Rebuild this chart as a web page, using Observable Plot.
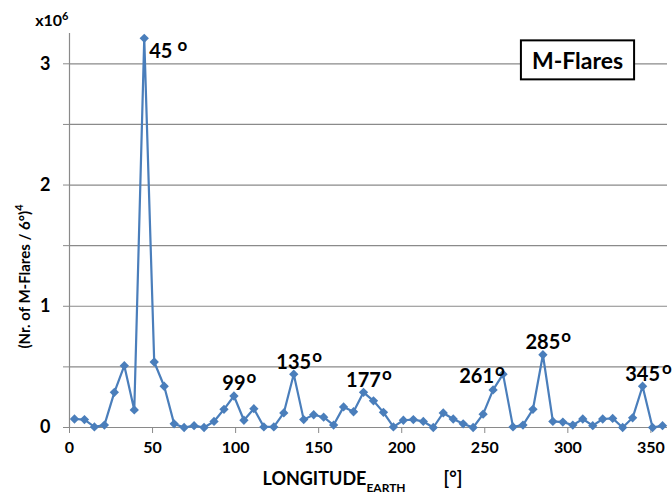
<!DOCTYPE html>
<html><head><meta charset="utf-8">
<script src="https://cdn.jsdelivr.net/npm/d3@7"></script>
<script src="https://cdn.jsdelivr.net/npm/@observablehq/plot@0.6"></script>
<style>
body{margin:0;background:#fff;}
#chart svg text{font-family:Lato,"Open Sans",sans-serif;}
</style></head><body><div id="chart"></div>
<script>
// Longitude bin centres (6° bins), degrees
const longitudes = [3,9,15,21,27,33,39,45,51,57,63,69,75,81,87,93,99,105,111,117,
  123,129,135,141,147,153,159,165,171,177,183,189,195,201,207,213,219,225,231,237,
  243,249,255,261,267,273,279,285,291,297,303,309,315,321,327,333,339,345,351,357];
// (Nr. of M-Flares / 6°)^4, in units of 10^6
const values = [0.07,0.065,0.005,0.02,0.29,0.51,0.145,3.21,0.54,0.34,0.03,0.0,0.015,0.0,0.05,0.15,0.26,0.06,0.155,0.005,
  0.005,0.12,0.44,0.065,0.105,0.085,0.02,0.17,0.13,0.29,0.22,0.125,0.005,0.06,0.065,0.05,0.0,0.12,0.07,0.03,
  0.0,0.11,0.31,0.44,0.005,0.02,0.15,0.6,0.05,0.045,0.02,0.07,0.015,0.07,0.075,0.0,0.08,0.34,0.0,0.015];
const peakLongitudes = [45,99,135,177,261,285,345];
const peakLabels = ["45","99","135","177","261","285","345"];
const xTicks = [0,50,100,150,200,250,300,350];
const yTicks = [0,0.5,1,1.5,2,2.5,3];
const yTickLabels = ["0","","1","","2","","3"];
const boxTitle = "M-Flares";
const yTitle = "(Nr. of M-Flares / 6°)";
const yTitleExp = "4";
const unitText = "x10";
const unitExp = "6";
const xTitle = "LONGITUDE";
const xTitleSub = "EARTH";
const xTitleUnit = "[°]";

const data = longitudes.map((lon, i) => ({lon, val: values[i]}));
const peaks = peakLongitudes.map((lon, i) => ({lon, val: values[longitudes.indexOf(lon)], label: peakLabels[i]}));

const gray = "#8a8a8a";
const blue = "#4a7ebb";
const bold = {fontWeight: "bold"};

const chart = Plot.plot({
  width: 672, height: 499,
  marginLeft: 69, marginRight: 5, marginTop: 33, marginBottom: 72,
  style: {background: "#fff", overflow: "visible", color: "#000"},
  x: {domain: [0, 360]},
  y: {domain: [0, 3.25]},
  marks: [
    Plot.gridY(yTicks, {stroke: gray, strokeOpacity: 1, strokeWidth: 1.2}),
    Plot.ruleX([0], {stroke: gray, strokeWidth: 1.2}),
    Plot.ruleY([0], {stroke: gray, strokeWidth: 1.2}),
    Plot.axisY(yTicks, {tickSize: 6, tickPadding: 13, stroke: gray, fill: "#000", fontSize: 18, ...bold,
      tickFormat: (d) => yTickLabels[yTicks.indexOf(d)], label: null}),
    Plot.axisX(xTicks, {tickSize: 6, tickPadding: 8, stroke: gray, fill: "#000", fontSize: 16, ...bold, label: null}),
    Plot.line(data, {x: "lon", y: "val", stroke: blue, strokeWidth: 2.2}),
    Plot.dot(data, {x: "lon", y: "val", symbol: "diamond2", r: 4.2, fill: blue, stroke: null}),
    Plot.text(peaks.filter(d => d.lon === 45), {x: "lon", y: "val", text: "label", textAnchor: "start", dx: 5, dy: 13, fontSize: 20, ...bold, className: "peak gap6"}),
    Plot.text(peaks.filter(d => d.lon === 261), {x: "lon", y: "val", text: "label", textAnchor: "end", dx: -9, dy: 2, fontSize: 20, ...bold, className: "peak gap2"}),
    Plot.text(peaks.filter(d => d.lon !== 45 && d.lon !== 261 && d.lon !== 345), {x: "lon", y: "val", text: "label", dy: -12, fontSize: 20, ...bold, className: "peak gap2"}),
    Plot.text(peaks.filter(d => d.lon === 345), {x: "lon", y: "val", text: "label", dy: -12, fontSize: 20, ...bold, className: "peak gap4"}),
    Plot.text([yTitle], {frameAnchor: "left", textAnchor: "middle", lineAnchor: "middle", rotate: -90, dx: -44, dy: 46, fontSize: 15, ...bold, className: "ytitle"}),
    Plot.text([unitText], {frameAnchor: "top-left", textAnchor: "end", lineAnchor: "middle", dx: -1, dy: -13, fontSize: 16, ...bold, className: "unit"}),
    Plot.text([boxTitle], {frameAnchor: "top-right", textAnchor: "middle", lineAnchor: "middle", dx: -90, dy: 28, fontSize: 23, ...bold, className: "boxtitle"}),
    Plot.text([xTitle], {frameAnchor: "bottom-left", textAnchor: "start", lineAnchor: "middle", dx: 193, dy: 52, fontSize: 18, ...bold, className: "xtitle"})
  ]
});
document.getElementById("chart").append(chart);

const svg = d3.select(chart);
// degree superscripts on peak labels
svg.selectAll("g.peak").each(function() {
  const g = d3.select(this);
  const anchor = g.attr("text-anchor") || "middle";
  const gap = this.classList.contains("gap6") ? 5 : this.classList.contains("gap4") ? 2 : 1;
  g.selectAll("text").each(function() {
    const w = this.getComputedTextLength();
    const x0 = +this.getAttribute("x") || 0;
    const start = anchor === "start" ? 0 : anchor === "end" ? -w : -w / 2;
    const t = d3.select(this).attr("text-anchor", "start").attr("x", x0 + start);
    t.append("tspan").attr("dx", gap).attr("dy", -7).attr("font-size", 17).text("o");
  });
});
// exponents
svg.selectAll("g.ytitle text").append("tspan").attr("dy", -7).attr("font-size", 11).text(yTitleExp);
svg.selectAll("g.unit text").each(function() {
  const x0 = +this.getAttribute("x") || 0;
  const t = d3.select(this);
  t.append("tspan").attr("dy", -6).attr("font-size", 11).text(unitExp);
  const w = this.getComputedTextLength();
  t.attr("text-anchor", "start").attr("x", x0 - w);
});
// x title with subscript and unit
svg.selectAll("g.xtitle text").each(function() {
  const t = d3.select(this);
  t.append("tspan").attr("dy", 7).attr("font-size", 12).text(xTitleSub);
  t.append("tspan").attr("dx", 38).attr("dy", -7).attr("font-size", 18).text(xTitleUnit);
});
// framed box around the series title
svg.selectAll("g.boxtitle").each(function() {
  const b = this.getBBox();
  const cx = b.x + b.width / 2, cy = b.y + b.height / 2;
  d3.select(this).insert("rect", ":first-child")
    .attr("x", cx - (b.width + 22) / 2).attr("y", cy - 19.5)
    .attr("width", b.width + 22).attr("height", 39)
    .attr("fill", "#fff").attr("stroke", "#000").attr("stroke-width", 2);
});
</script>
</body></html>
